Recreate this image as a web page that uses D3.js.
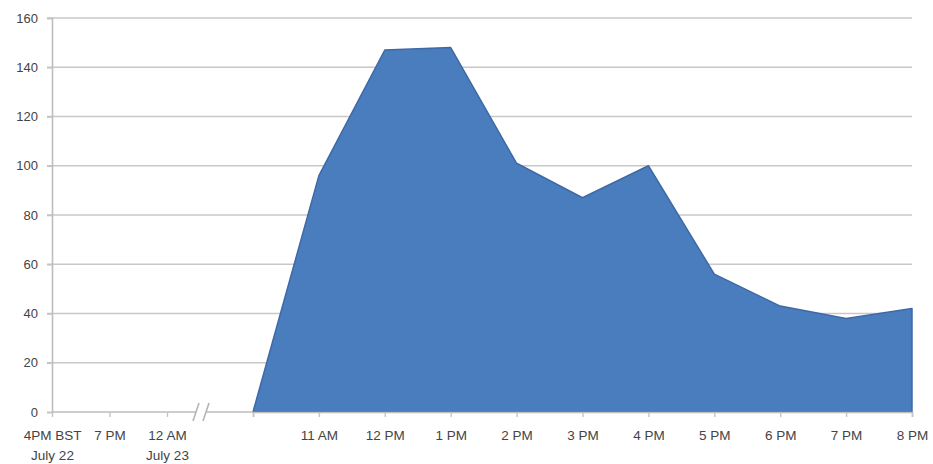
<!DOCTYPE html>
<html>
<head>
<meta charset="utf-8">
<script src="https://cdn.jsdelivr.net/npm/d3@7"></script>
<style>
  html, body { margin: 0; padding: 0; background: #fff; }
  svg { display: block; }
  text { font-family: "Liberation Sans", Arial, sans-serif; fill: #444; }
</style>
</head>
<body>
<svg id="chart" width="933" height="464"></svg>
<script>
// Overnight lead-in (no activity) shown compressed before the axis break
const leadCategories = ["4PM BST", "7 PM", "12 AM"];
const leadSubLabels  = ["July 22", "", "July 23"];

// Daytime hours on July 23
const hours  = ["10 AM", "11 AM", "12 PM", "1 PM", "2 PM", "3 PM", "4 PM", "5 PM", "6 PM", "7 PM", "8 PM"];
const counts = [0, 96, 147, 148, 101, 87, 100, 56, 43, 38, 42];

const yTicks = [0, 20, 40, 60, 80, 100, 120, 140, 160];

(function draw() {
  const svg = d3.select("#chart");
  const plotLeft = 52, plotRight = 912, plotTop = 18, plotBottom = 412;
  const breakLeft = 167, mainStart = 253;
  const fontFam = "'Liberation Sans', Arial, sans-serif";

  const y = d3.scaleLinear().domain([0, 160]).range([plotBottom, plotTop]);
  const xLead = d3.scalePoint().domain(leadCategories).range([plotLeft, breakLeft]);
  const x = d3.scalePoint().domain(hours).range([mainStart, plotRight]);

  // horizontal gridlines with short ticks left of the value axis
  svg.append("g")
    .selectAll("line")
    .data(yTicks.filter(d => d > 0))
    .join("line")
    .attr("x1", plotLeft - 5).attr("x2", plotRight)
    .attr("y1", d => y(d)).attr("y2", d => y(d))
    .attr("stroke", "#c8c8c8").attr("stroke-width", 1.7);

  // value axis labels
  const yAxis = d3.axisLeft(y).tickValues(yTicks).tickSize(5).tickPadding(9);
  const gy = svg.append("g").attr("transform", `translate(${plotLeft},0)`).call(yAxis);
  gy.select(".domain").attr("stroke", "#bdbdbd").attr("stroke-width", 1.6);
  gy.selectAll(".tick line").attr("stroke", "#c4c4c4").attr("stroke-width", 1.6);
  gy.selectAll(".tick text").attr("font-size", 13).attr("fill", "#4a4a4a")
    .style("font-family", fontFam);

  // filled area
  const area = d3.area()
    .x((d, i) => x(hours[i]))
    .y0(y(0))
    .y1(d => y(d));
  svg.append("path")
    .datum(counts)
    .attr("d", area)
    .attr("fill", "#4a7dbe")
    .attr("stroke", "#3e69a6")
    .attr("stroke-width", 1.5)
    .attr("stroke-linejoin", "round");

  // category axis, drawn as two pieces around the break
  const axisColor = "#bdbdbd";
  const breakA = 196, breakB = 206;
  svg.append("line")
    .attr("x1", plotLeft).attr("x2", breakA).attr("y1", plotBottom).attr("y2", plotBottom)
    .attr("stroke", axisColor).attr("stroke-width", 1.6);
  svg.append("line")
    .attr("x1", breakB).attr("x2", mainStart).attr("y1", plotBottom).attr("y2", plotBottom)
    .attr("stroke", axisColor).attr("stroke-width", 1.6);

  // break marks
  svg.append("g").selectAll("line")
    .data([breakA, breakB])
    .join("line")
    .attr("x1", d => d - 3).attr("x2", d => d + 3)
    .attr("y1", plotBottom + 9).attr("y2", plotBottom - 9)
    .attr("stroke", "#b5b5b5").attr("stroke-width", 1.6);

  // lead-in ticks and labels
  const gLead = svg.append("g").attr("transform", `translate(0,${plotBottom})`)
    .call(d3.axisBottom(xLead).tickSize(5).tickPadding(13));
  gLead.select(".domain").remove();
  gLead.selectAll(".tick line").attr("stroke", "#c4c4c4").attr("stroke-width", 1.4);
  gLead.selectAll(".tick text").attr("font-size", 13.5).attr("fill", "#3f3f3f")
    .style("font-family", fontFam);
  gLead.selectAll(".tick")
    .append("text")
    .attr("y", 48).attr("text-anchor", "middle")
    .attr("font-size", 13.5).attr("fill", "#3f3f3f")
    .style("font-family", fontFam)
    .text((d, i) => leadSubLabels[i]);

  // daytime ticks and labels
  const gx = svg.append("g").attr("transform", `translate(0,${plotBottom})`)
    .call(d3.axisBottom(x).tickSize(5).tickPadding(13)
      .tickFormat(d => d === hours[0] ? "" : d));
  gx.select(".domain").attr("stroke", axisColor).attr("stroke-width", 1.6);
  gx.selectAll(".tick line").attr("stroke", "#c4c4c4").attr("stroke-width", 1.4);
  gx.selectAll(".tick text").attr("font-size", 13.5).attr("fill", "#3f3f3f")
    .style("font-family", fontFam);
})();
</script>
</body>
</html>
